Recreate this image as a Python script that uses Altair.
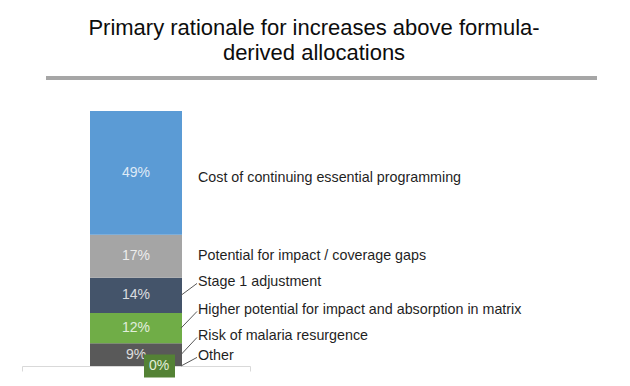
import altair as alt
import pandas as pd

# ---- data ----
categories = [
    "Cost of continuing essential programming",
    "Potential for impact / coverage gaps",
    "Stage 1 adjustment",
    "Higher potential for impact and absorption in matrix",
    "Risk of malaria resurgence",
    "Other",
]
shares = [49, 17, 14, 12, 9, 0]
pct_labels = ["49%", "17%", "14%", "12%", "9%", "0%"]
has_leader = [False, False, True, True, True, True]

# ---- styling / layout lists ----
colors = ["#5b9bd5", "#a5a5a5", "#44546a", "#70ad47", "#595959", "#548235"]
label_shift = [-2.0, 0.0, 5.3, 7.2, 7.4, 4.0]  # label offset from segment middle (pct points)

title_lines = ["Primary rationale for increases above formula-", "derived allocations"]
FONT = "Liberation Sans"

# stack from the bottom (last category sits at the bottom)
rows = []
cum = 0.0
for i in reversed(range(len(categories))):
    lo = cum
    hi = cum + shares[i]
    cum = hi
    mid = (lo + hi) / 2
    ly = mid + label_shift[i]
    rows.append(dict(grp="all", cat=categories[i], share=shares[i], pct=pct_labels[i],
                     lo=lo, hi=hi, mid=mid, label_y=ly, lead_end=ly - 0.6,
                     leader=has_leader[i]))
df = pd.DataFrame(rows)
total = cum

yscale = alt.Scale(domain=[0, total], nice=False, zero=True)
xscale = alt.Scale(paddingInner=0, paddingOuter=0)

base = alt.Chart(df)

bars = base.mark_bar(size=92).encode(
    x=alt.X("grp:N", scale=xscale,
            axis=alt.Axis(labels=False, title=None, domainColor="#d9d9d9", tickColor="#d9d9d9",
                          tickSize=5, tickBand="extent", domainWidth=1, tickWidth=1)),
    y=alt.Y("lo:Q", scale=yscale, axis=None),
    y2="hi:Q",
    color=alt.Color("cat:N", scale=alt.Scale(domain=categories, range=colors), legend=None),
)

inner = base.transform_filter("datum.share > 0").mark_text(
    font=FONT, fontSize=14, color="white", opacity=0.8, baseline="middle"
).encode(x=alt.X("grp:N", scale=xscale), y=alt.Y("mid:Q", scale=yscale), text="pct:N")

box_path = "M-1,-0.742L1,-0.742L1,0.742L-1,0.742Z"
zero_box = base.transform_filter("datum.share == 0").mark_point(
    shape=box_path, size=961, filled=True, color="#548235", opacity=1, strokeWidth=0
).encode(x=alt.value(137.5), y=alt.Y("mid:Q", scale=yscale))

zero_txt = base.transform_filter("datum.share == 0").mark_text(
    font=FONT, fontSize=14, color="#e2efd9", baseline="middle"
).encode(x=alt.value(137), y=alt.Y("mid:Q", scale=yscale), text="pct:N")

leaders = base.transform_filter("datum.leader").mark_rule(color="#595959", strokeWidth=1).encode(
    x=alt.value(159), x2=alt.value(175),
    y=alt.Y("mid:Q", scale=yscale), y2="lead_end:Q",
)

labels = base.mark_text(
    font=FONT, fontSize=14.3, color="#1f1f1f", align="left", baseline="middle"
).encode(x=alt.value(176), y=alt.Y("label_y:Q", scale=yscale), text="cat:N")

title_rule = base.transform_filter("datum.share == 0").mark_rule(color="#a6a6a6", strokeWidth=4).encode(
    x=alt.value(24), x2=alt.value(575), y=alt.value(-33)
)

title_df = pd.DataFrame({"line": title_lines, "row": list(range(len(title_lines)))})
title_text = alt.Chart(title_df).transform_filter("datum.row == 0").mark_text(
    text=title_lines, font=FONT, fontSize=22, color="#0d0d0d", align="center",
    baseline="alphabetic", lineHeight=25
).encode(x=alt.value(292), y=alt.value(-76))

chart = alt.layer(bars, inner, zero_box, zero_txt, leaders, labels, title_rule, title_text).properties(
    width=228,
    height=255,
    autosize=alt.AutoSizeParams(type="none"),
    padding={"left": 14, "top": 103, "right": 370, "bottom": 12},
).configure_view(strokeWidth=0)

chart.save("out.html", embed_options={"renderer": "svg", "actions": False})
